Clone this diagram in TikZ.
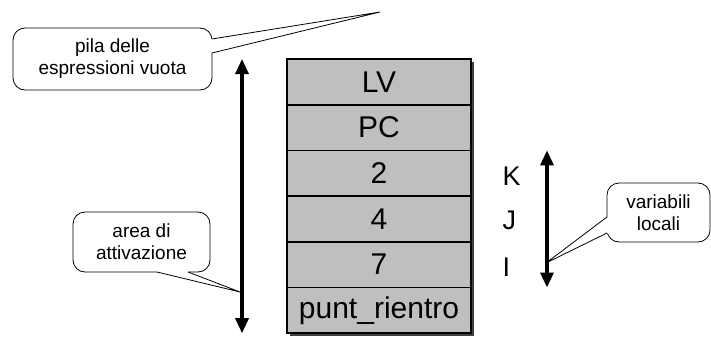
\documentclass[tikz,border=0pt]{standalone}
\usepackage{fontspec}
\setmainfont{Liberation Sans}
\usetikzlibrary{arrows.meta, positioning, shadows}

\begin{document}
\begin{tikzpicture}[
    x=1pt, y=-1pt,
    cell/.style={rectangle, draw=black, line width=1.6pt, fill=black!25, outer sep=0pt,
        minimum width=184pt, minimum height=45.7pt, font=\fontsize{30}{32}\selectfont,
        drop shadow={shadow xshift=3pt, shadow yshift=-3pt, opacity=1, fill=black!75}},
    var/.style={font=\fontsize{27}{30}\selectfont},
    bubble/.style={rectangle, draw=black, line width=0.8pt, rounded corners=12pt, fill=white,
        outer sep=0pt, align=center, font=\fontsize{19}{22}\selectfont},
    pointer/.style={line width=0.8pt},
    span/.style={{Triangle[length=15pt,width=13pt]}-{Triangle[length=15pt,width=13pt]}, line width=3.2pt}
]
    \useasboundingbox (0,0) rectangle (711,337);

    % record di attivazione
    \node[cell] (lv) at (379,81.85) {LV};
    \node[cell, below=0pt of lv] (pc) {PC};
    \node[cell, below=0pt of pc] (k) {2};
    \node[cell, below=0pt of k] (j) {4};
    \node[cell, below=0pt of j] (i) {7};
    \node[cell, below=0pt of i] (rientro) {punt\_rientro};

    \node[var, right=28pt of k, yshift=-3pt] (klab) {K};
    \node[var, right=28pt of j, yshift=-1pt] (jlab) {J};
    \node[var, right=28pt of i, yshift=-3pt] (ilab) {I};

    % fumetti
    \node[bubble, minimum width=199pt, minimum height=62pt] (pila) at (112.5,59) {pila delle\\espressioni vuota};
    \node[bubble, minimum width=137pt, minimum height=60pt] (area) at (141.5,242) {area di\\attivazione};
    \node[bubble, minimum width=103pt, minimum height=59pt] (loc) at (658.5,212.5) {variabili\\locali};

    \coordinate (pilatip) at (380,12);
    \coordinate (areatip) at (240,292);
    \coordinate (loctip) at (546,263);

    \fill[white] ([yshift=20pt]pila.east) -- (pilatip) -- ([yshift=6pt]pila.east)
        -- ([xshift=-1.5pt,yshift=6pt]pila.east) -- ([xshift=-1.5pt,yshift=20pt]pila.east) -- cycle;
    \draw[pointer] ([yshift=20pt]pila.east) -- (pilatip) -- ([yshift=6pt]pila.east);

    \fill[white] ([xshift=15.5pt]area.south) -- (areatip) -- ([xshift=46.5pt]area.south)
        -- ([xshift=46.5pt,yshift=1.5pt]area.south) -- ([xshift=15.5pt,yshift=1.5pt]area.south) -- cycle;
    \draw[pointer] ([xshift=15.5pt]area.south) -- (areatip) -- ([xshift=46.5pt]area.south);

    \fill[white] ([yshift=-4.5pt]loc.west) -- (loctip) -- ([yshift=-20.5pt]loc.west)
        -- ([xshift=1.5pt,yshift=-20.5pt]loc.west) -- ([xshift=1.5pt,yshift=-4.5pt]loc.west) -- cycle;
    \draw[pointer] ([yshift=-4.5pt]loc.west) -- (loctip) -- ([yshift=-20.5pt]loc.west);

    % frecce
    \coordinate (areatop) at ([xshift=-45pt]lv.north west);
    \coordinate (areabot) at ([xshift=-45pt]rientro.south west);
    \coordinate (loctop) at ([xshift=76pt]k.north east);
    \coordinate (locbot) at ([xshift=76pt]i.south east);
    \draw[span] (areatop) -- (areabot);
    \draw[span] (loctop) -- (locbot);
\end{tikzpicture}
\end{document}
